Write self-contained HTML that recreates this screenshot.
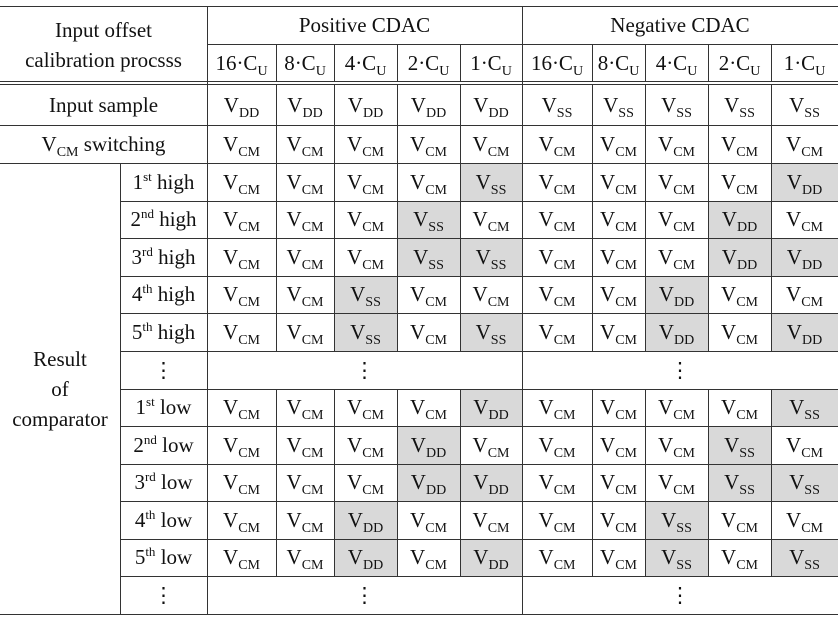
<!DOCTYPE html>
<html><head><meta charset="utf-8"><style>
body{margin:0;background:#fff;}
#t{position:relative;width:838px;height:618px;overflow:hidden;font-family:"Liberation Serif",serif;color:#111;}
.c{position:absolute;display:flex;align-items:center;justify-content:center;font-size:21px;white-space:nowrap;}
.c > span{display:inline-block;text-align:center;}
.c sub{font-size:14px;vertical-align:-5px;line-height:0;}
.c sup{font-size:13px;vertical-align:8px;line-height:0;}
.h{position:absolute;height:1px;background:#333;}
.v{position:absolute;width:1px;background:#333;}
.g{background:#d9d9d9;}
</style></head><body>
<div id="t"></div>
<script>
const posCols=["16·C<sub>U</sub>","8·C<sub>U</sub>","4·C<sub>U</sub>","2·C<sub>U</sub>","1·C<sub>U</sub>"];
const rowLabels=["1<sup>st</sup> high","2<sup>nd</sup> high","3<sup>rd</sup> high","4<sup>th</sup> high","5<sup>th</sup> high","⋮","1<sup>st</sup> low","2<sup>nd</sup> low","3<sup>rd</sup> low","4<sup>th</sup> low","5<sup>th</sup> low","⋮"];
// 1 = switched (shaded) positions per row, columns 16,8,4,2,1
const switched=[[0,0,0,0,1],[0,0,0,1,0],[0,0,0,1,1],[0,0,1,0,0],[0,0,1,0,1],null,[0,0,0,0,1],[0,0,0,1,0],[0,0,0,1,1],[0,0,1,0,0],[0,0,1,0,1],null];
const X=[0,120,207,276,334,397,460,522,592,645,708,771,838];
const T=document.getElementById('t');
function cell(x,y,w,h,html,name,cls){const d=document.createElement('div');d.className='c'+(cls?' '+cls:'');
d.style.left=x+'px';d.style.top=y+'px';d.style.width=w+'px';d.style.height=h+'px';d.innerHTML='<span>'+html+'</span>';


T.appendChild(d);return d;}
function hl(x1,x2,y){const d=document.createElement('div');d.className='h';d.style.left=x1+'px';d.style.width=(x2-x1)+'px';d.style.top=Math.round(y)+'px';


T.appendChild(d);}
function vl(x,y1,y2){const d=document.createElement('div');d.className='v';d.style.left=x+'px';d.style.top=Math.round(y1)+'px';d.style.height=(Math.round(y2)-Math.round(y1))+'px';


T.appendChild(d);}
const V=s=>'V<sub>'+s+'</sub>';
cell(0,7,207,76,'<span style="display:block;line-height:30px">Input offset<br>calibration procsss</span>','corner-header');
cell(207,7,315,37,'Positive CDAC','positive-cdac-header');
cell(522,7,316,37,'Negative CDAC','negative-cdac-header');
for(let i=0;i<10;i++)cell(X[i+2],44,X[i+3]-X[i+2],38,posCols[i%5],'cap-header');
cell(0,85,207,40,'Input sample','input-sample-label');
cell(0,125,207,38,V('CM')+' switching','vcm-switching-label');
for(let i=0;i<10;i++){cell(X[i+2],85,X[i+3]-X[i+2],40,V(i<5?'DD':'SS'),'input-sample-cell');
cell(X[i+2],125,X[i+3]-X[i+2],38,V('CM'),'vcm-cell');}
const y0=163,rh=(614-163)/12;
const RY=r=>Math.round(y0+r*rh);
cell(0,y0,120,451,'<span style="display:block;line-height:30px">Result<br>of<br>comparator</span>','result-label');
rowLabels.forEach((lab,r)=>{const y=RY(r),h=RY(r+1)-RY(r);cell(120,y,87,h,lab,'row-label');
const sw=switched[r];
if(!sw){cell(207,y,315,h,'⋮','dots');cell(522,y,316,h,'⋮','dots');return;}
const high=r<6;
for(let i=0;i<10;i++){const k=i%5;const on=sw[k];let v='CM';
if(on){v=(i<5)===high?'SS':'DD';}
cell(X[i+2],y,X[i+3]-X[i+2],h,V(v),'value-cell',on?'g':'');}
});
hl(0,838,6);hl(207,838,44);hl(0,838,81);hl(0,838,84);hl(0,838,125);hl(0,838,163);
for(let r=1;r<12;r++)hl(120,838,RY(r));
hl(0,838,614);
vl(207,6,615);vl(522,6,615);vl(120,163,615);
for(const i of [3,4,5,6,8,9,10,11]){vl(X[i],44,82);vl(X[i],84,RY(5));vl(X[i],RY(6),RY(11));}
</script>
</body></html>
